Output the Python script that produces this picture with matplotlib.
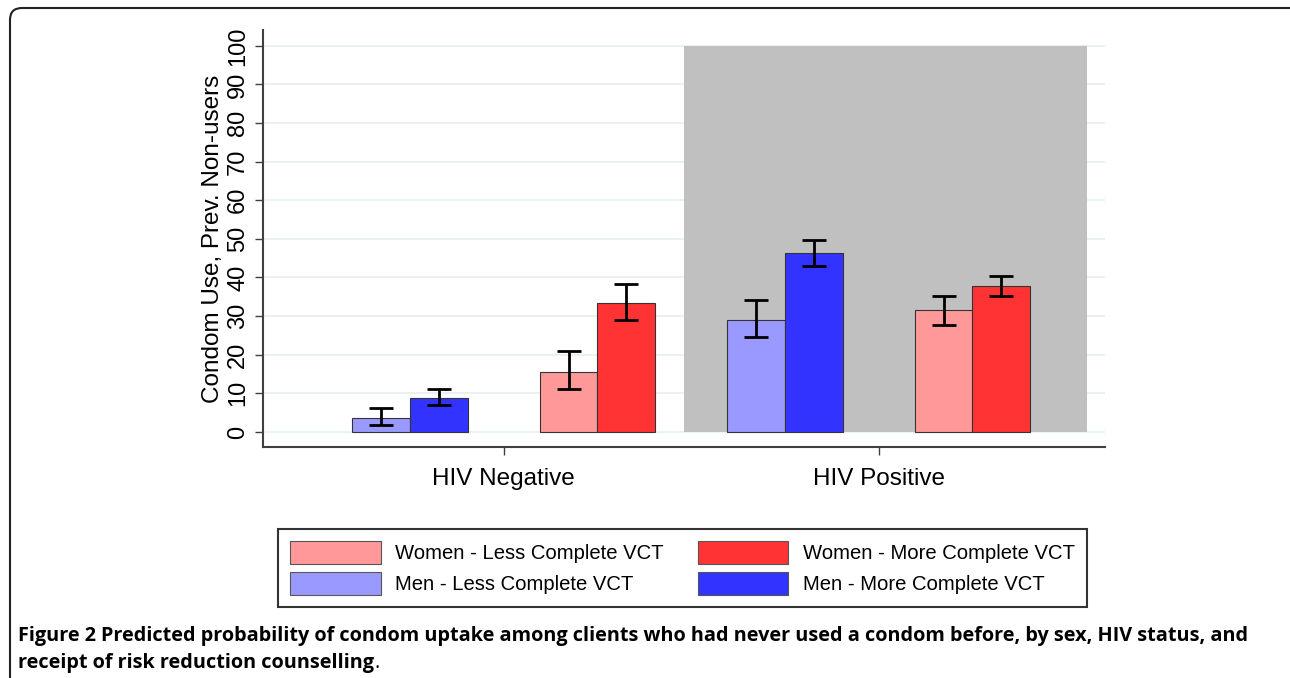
import numpy as np
import matplotlib.pyplot as plt
from matplotlib.patches import FancyBboxPatch, Patch
from matplotlib.transforms import IdentityTransform

# 数据
groups = ['HIV Negative', 'HIV Positive']
series = ['Women - Less Complete VCT', 'Women - More Complete VCT',
          'Men - Less Complete VCT', 'Men - More Complete VCT']
colors = ['#ff9999', '#ff3333', '#9999ff', '#3333ff']

# 每组顺序: 男性(少, 多), 女性(少, 多)
men_less = [3.6, 29.0]
men_more = [8.8, 46.4]
women_less = [15.5, 31.6]
women_more = [33.4, 37.8]
men_less_ci = [(1.8, 6.2), (24.6, 34.2)]
men_more_ci = [(7.0, 11.1), (43.0, 49.7)]
women_less_ci = [(11.1, 21.0), (27.7, 35.2)]
women_more_ci = [(29.0, 38.3), (35.2, 40.4)]

plt.rcParams['font.family'] = ['Liberation Sans', 'DejaVu Sans']

fig = plt.figure(figsize=(12.9, 6.78), dpi=100)
ax = fig.add_axes([263/1290, 1-447/678, (1105-263)/1290, (447-30)/678])

w = 0.307
def draw(pos, vals, ci, color):
    x = np.array(pos)
    ax.bar(x, vals, width=w, color=color, edgecolor='#333333', linewidth=0.8, zorder=3)
    lo = np.array(vals) - np.array([c[0] for c in ci])
    hi = np.array([c[1] for c in ci]) - np.array(vals)
    ax.errorbar(x, vals, yerr=[lo, hi], fmt='none', ecolor='black',
                elinewidth=2, capsize=8.5, capthick=2, zorder=4)

# 组内位置: 男性在 0/2, 女性在 1/3
men_pos = np.array([0, 2])
women_pos = np.array([1, 3])
draw(men_pos - w/2, men_less, men_less_ci, colors[2])
draw(men_pos + w/2, men_more, men_more_ci, colors[3])
draw(women_pos - w/2, women_less, women_less_ci, colors[0])
draw(women_pos + w/2, women_more, women_more_ci, colors[1])

# 灰色背景 (HIV Positive)
ax.fill_between([1.461, 3.611], 0, 100, color='#c0c0c0', zorder=2, linewidth=0)

ax.set_xlim(-0.784, 3.707)
ax.set_ylim(-3.9, 104.1)
ax.set_yticks(np.arange(0, 101, 10))
ax.set_yticklabels([str(v) for v in range(0, 101, 10)], rotation=90, va='center')
ax.set_xticks([0.5, 2.5])
ax.set_xticklabels(groups)
ax.grid(axis='y', color='#e6eff0', linewidth=1.2, zorder=1)
ax.set_axisbelow(True)
for s in ['top', 'right']:
    ax.spines[s].set_visible(False)
for s in ['left', 'bottom']:
    ax.spines[s].set_color('#404040')
    ax.spines[s].set_linewidth(1.5)
ax.tick_params(axis='y', length=6, width=1, color='#404040', pad=4, labelsize=17)
ax.tick_params(axis='x', length=6, width=1, color='#404040', pad=9, labelsize=17.5)
ax.set_ylabel('Condom Use, Prev. Non-users', fontsize=17.5, labelpad=2)

# 图例
handles = [Patch(facecolor=colors[i], edgecolor='#555555', linewidth=0.8) for i in [0, 2, 1, 3]]
labels = [series[i] for i in [0, 2, 1, 3]]
leg = fig.legend(handles, labels, ncol=2, loc='center',
                 bbox_to_anchor=(682.5/1290, 1-568/678), fontsize=14.6,
                 handlelength=4.45, handleheight=1.35, handletextpad=0.73,
                 columnspacing=1.65, labelspacing=0.42, borderpad=0.6,
                 fancybox=False, framealpha=1)
leg.get_frame().set_edgecolor('#333333')
leg.get_frame().set_linewidth(1.5)

# 外框
box = FancyBboxPatch((10, -30), 1300, 670 + 30, boxstyle='round,pad=0,rounding_size=12',
                     transform=IdentityTransform(), facecolor='none',
                     edgecolor='#222222', linewidth=1.5)
fig.patches.append(box)

# 标题说明
cap_font = ['Open Sans', 'DejaVu Sans']
cap_size = 14.3
t1 = fig.text(18/1290, 1-636/678, 'Figure 2', fontsize=cap_size, fontweight='bold',
              family=cap_font, va='center', ha='left')
fig.canvas.draw()
bb = t1.get_window_extent()
fig.text((bb.x1 + 5)/1290, 1-636/678,
         'Predicted probability of condom uptake among clients who had never used a condom before, by sex, HIV status, and',
         fontsize=cap_size, fontweight='bold', family=cap_font, va='center', ha='left')
t3 = fig.text(18/1290, 1-663/678, 'receipt of risk reduction counselling', fontsize=cap_size,
              fontweight='bold', family=cap_font, va='center', ha='left')
fig.canvas.draw()
bb3 = t3.get_window_extent()
fig.text(bb3.x1/1290, 1-663/678, '.', fontsize=cap_size, family=cap_font, va='center', ha='left')

fig.savefig('out.png', dpi=100)
